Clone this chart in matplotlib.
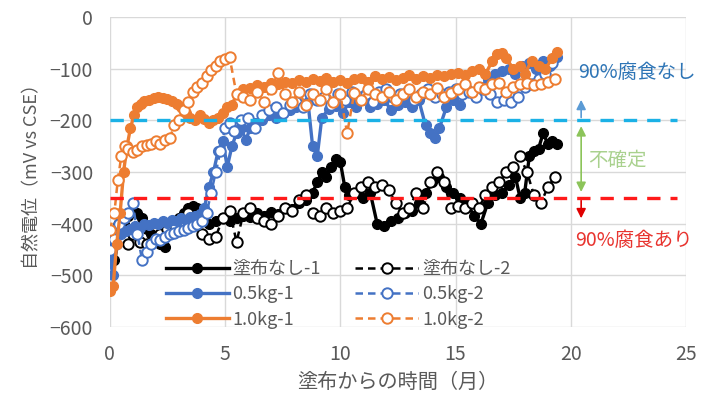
import numpy as np
import matplotlib
matplotlib.use("Agg")
from matplotlib import pyplot as plt

plt.rcParams['font.family'] = ['Noto Sans CJK JP', 'DejaVu Sans']

# 塗布なし-1
k1_t = [0.0, 0.2, 0.4, 0.6, 0.8, 1.0, 1.2, 1.4, 1.6, 1.8,
        2.0, 2.2, 2.4, 2.6, 2.8, 3.0, 3.2, 3.4, 3.6, 3.8,
        4.0, 4.3, 4.6, 4.9, 5.2, 5.5, 5.8, 6.1, 6.4, 6.7,
        7.0, 7.3, 7.6, 7.9, 8.2, 8.5, 8.8, 9.0, 9.2, 9.4,
        9.6, 9.8, 10.0, 10.2, 10.4, 10.7, 11.0, 11.3, 11.6, 11.9,
        12.2, 12.5, 12.8, 13.1, 13.4, 13.7, 14.0, 14.3, 14.6, 14.9,
        15.2, 15.5, 15.8, 16.1, 16.4, 16.7, 17.0, 17.3, 17.6, 17.8,
        18.0, 18.2, 18.4, 18.6, 18.8, 19.0, 19.2, 19.4]
k1_v = [-460, -470, -430, -400, -385, -375, -380, -390, -410, -420,
        -430, -440, -445, -420, -400, -390, -380, -370, -365, -370,
        -380, -400, -395, -390, -395, -390, -385, -388, -380, -385,
        -378, -382, -370, -372, -360, -355, -340, -320, -300, -310,
        -290, -275, -280, -330, -345, -340, -350, -340, -400, -405,
        -395, -390, -380, -375, -360, -340, -320, -310, -330, -340,
        -350, -360, -385, -400, -360, -345, -340, -325, -310, -350,
        -340, -270, -260, -255, -225, -245, -240, -245]

# 塗布なし-2
k2_t = [0.0, 0.2, 0.4, 0.6, 0.8, 1.0, 1.3, 1.6, 1.9, 2.2,
        2.5, 2.8, 3.1, 3.4, 3.7, 4.0, 4.3, 4.6, 4.9, 5.2,
        5.5, 5.8, 6.1, 6.4, 6.7, 7.0, 7.3, 7.6, 7.9, 8.2,
        8.5, 8.8, 9.1, 9.4, 9.7, 10.0, 10.3, 10.6, 10.9, 11.2,
        11.5, 11.8, 12.1, 12.4, 12.7, 13.0, 13.3, 13.6, 13.9, 14.2,
        14.5, 14.8, 15.1, 15.4, 15.7, 16.0, 16.3, 16.6, 16.9, 17.2,
        17.5, 17.8, 18.1, 18.4, 18.7, 19.0, 19.3]
k2_v = [-450, -420, -400, -430, -440, -420, -435, -440, -430, -420,
        -410, -400, -395, -380, -400, -420, -430, -425, -390, -375,
        -435, -380, -370, -390, -395, -400, -385, -370, -375, -355,
        -345, -380, -385, -370, -380, -375, -370, -340, -330, -320,
        -330, -325, -335, -360, -380, -370, -340, -370, -320, -300,
        -320, -370, -365, -370, -360, -370, -345, -330, -320, -300,
        -290, -270, -300, -345, -360, -330, -310]

# 0.5kg-1
b1_t = [0.0, 0.15, 0.3, 0.5, 0.7, 0.9, 1.1, 1.3, 1.5, 1.7,
        1.9, 2.1, 2.3, 2.5, 2.7, 2.9, 3.1, 3.3, 3.5, 3.7,
        3.9, 4.1, 4.3, 4.5, 4.7, 4.9, 5.1, 5.3, 5.5, 5.7,
        5.9, 6.1, 6.3, 6.6, 6.9, 7.2, 7.5, 7.8, 8.1, 8.4,
        8.6, 8.8, 9.0, 9.2, 9.5, 9.8, 10.1, 10.4, 10.7, 11.0,
        11.3, 11.6, 11.9, 12.2, 12.5, 12.8, 13.1, 13.4, 13.7, 13.9,
        14.1, 14.3, 14.6, 14.9, 15.2, 15.5, 15.8, 16.1, 16.4, 16.7,
        17.0, 17.3, 17.6, 17.9, 18.2, 18.5, 18.8, 19.1, 19.4]
b1_v = [-470, -500, -440, -420, -415, -410, -405, -408, -400, -402,
        -398, -400, -395, -398, -393, -395, -390, -392, -388, -385,
        -382, -370, -330, -300, -260, -240, -290, -250, -225, -215,
        -238, -215, -205, -200, -190, -195, -185, -180, -175, -168,
        -165, -250, -270, -195, -178, -172, -185, -165, -175, -160,
        -175, -168, -160, -180, -170, -165, -175, -160, -210, -225,
        -235, -215, -175, -160, -170, -140, -150, -135, -120, -110,
        -105, -100, -110, -95, -90, -100, -85, -95, -78]

# 0.5kg-2
b2_t = [0.0, 0.2, 0.4, 0.6, 0.8, 1.0, 1.2, 1.4, 1.6, 1.8,
        2.0, 2.2, 2.4, 2.6, 2.8, 3.0, 3.2, 3.4, 3.6, 3.8,
        4.0, 4.2, 4.4, 4.6, 4.8, 5.0, 5.2, 5.4, 5.7, 6.0,
        6.3, 6.6, 6.9, 7.2, 7.5, 7.8, 8.1, 8.4, 8.7, 9.0,
        9.3, 9.6, 9.9, 10.2, 10.5, 10.8, 11.1, 11.4, 11.7, 12.0,
        12.3, 12.6, 12.9, 13.2, 13.5, 13.8, 14.1, 14.4, 14.7, 15.0,
        15.3, 15.6, 15.9, 16.2, 16.5, 16.8, 17.1, 17.4, 17.7, 18.0,
        18.3, 18.6, 18.9, 19.2]
b2_v = [-450, -430, -400, -390, -380, -360, -420, -470, -455, -440,
        -430, -432, -425, -420, -418, -415, -412, -408, -405, -400,
        -395, -380, -340, -300, -260, -215, -205, -220, -200, -195,
        -215, -190, -180, -175, -185, -170, -165, -175, -150, -160,
        -155, -170, -150, -160, -145, -155, -150, -165, -145, -140,
        -155, -150, -145, -160, -150, -140, -155, -150, -145, -140,
        -150, -145, -155, -140, -150, -165, -160, -165, -155, -135,
        -130, -120, -110, -90]

# 1.0kg-1
o1_t = [0.0, 0.15, 0.3, 0.45, 0.6, 0.75, 0.9, 1.05, 1.2, 1.35,
        1.5, 1.7, 1.9, 2.1, 2.3, 2.5, 2.7, 2.9, 3.1, 3.3,
        3.5, 3.7, 3.9, 4.1, 4.3, 4.5, 4.7, 4.9, 5.1, 5.3,
        5.5, 5.8, 6.1, 6.4, 6.7, 7.0, 7.3, 7.6, 7.9, 8.2,
        8.5, 8.8, 9.1, 9.4, 9.7, 10.0, 10.3, 10.6, 10.9, 11.2,
        11.5, 11.8, 12.1, 12.4, 12.7, 13.0, 13.3, 13.6, 13.9, 14.2,
        14.5, 14.8, 15.1, 15.4, 15.7, 16.0, 16.3, 16.6, 16.8, 17.0,
        17.2, 17.5, 17.8, 18.0, 18.3, 18.6, 18.9, 19.2, 19.4]
o1_v = [-530, -520, -440, -380, -300, -250, -215, -190, -175, -168,
        -163, -160, -157, -155, -156, -158, -162, -168, -175, -185,
        -195, -200, -190, -198, -205, -200, -195, -185, -175, -170,
        -150, -140, -138, -132, -135, -128, -130, -125, -128, -122,
        -126, -120, -124, -118, -125, -122, -128, -120, -118, -125,
        -115, -120, -116, -122, -118, -113, -120, -115, -118, -112,
        -115, -110, -108, -112, -105, -100, -110, -85, -72, -70,
        -80, -100, -95, -110, -85, -95, -100, -80, -68]

# 1.0kg-2
o2_t = [0.0, 0.2, 0.35, 0.5, 0.65, 0.8, 1.0, 1.2, 1.4, 1.6,
        1.8, 2.0, 2.2, 2.4, 2.6, 2.8, 3.0, 3.2, 3.4, 3.6,
        3.8, 4.0, 4.2, 4.4, 4.6, 4.8, 5.0, 5.2, 5.5, 5.8,
        6.1, 6.4, 6.7, 7.0, 7.3, 7.6, 7.9, 8.2, 8.5, 8.8,
        9.1, 9.4, 9.7, 10.0, 10.3, 10.6, 10.9, 11.2, 11.5, 11.8,
        12.1, 12.4, 12.7, 13.0, 13.3, 13.6, 13.9, 14.2, 14.5, 14.8,
        15.1, 15.4, 15.7, 16.0, 16.3, 16.6, 16.9, 17.2, 17.5, 17.8,
        18.1, 18.4, 18.7, 19.0, 19.3]
o2_v = [-412, -380, -315, -270, -250, -255, -262, -258, -250, -248,
        -245, -240, -245, -238, -235, -210, -200, -180, -165, -145,
        -135, -128, -115, -103, -95, -85, -82, -78, -150, -155,
        -160, -145, -165, -140, -108, -150, -165, -145, -170, -150,
        -160, -140, -165, -150, -225, -148, -160, -140, -150, -155,
        -145, -160, -150, -140, -155, -145, -150, -138, -155, -148,
        -140, -130, -145, -135, -140, -130, -128, -145, -135, -130,
        -128, -132, -130, -125, -120]

series = [
    ("塗布なし-1", k1_t, k1_v, "#000000", True),
    ("塗布なし-2", k2_t, k2_v, "#000000", False),
    ("0.5kg-1", b1_t, b1_v, "#4472C4", True),
    ("0.5kg-2", b2_t, b2_v, "#4472C4", False),
    ("1.0kg-1", o1_t, o1_v, "#ED7D31", True),
    ("1.0kg-2", o2_t, o2_v, "#ED7D31", False),
]

no_corr = -200   # 90%腐食なし threshold
corr = -350      # 90%腐食あり threshold
arrow_x = 20.45

fig = plt.figure(figsize=(7.08, 3.94), dpi=100)
ax = fig.add_axes([0.155, 0.170, 0.814, 0.787])

handles = {}
for name, t, v, col, filled in series:
    if filled:
        h, = ax.plot(t, v, '-', color=col, lw=2.4, marker='o', ms=7,
                     mfc=col, mec=col, label=name, zorder=3)
    else:
        h, = ax.plot(t, v, '--', color=col, lw=1.8, marker='o', ms=7.5,
                     mfc='white', mec=col, mew=1.4, label=name, zorder=3,
                     dashes=(3, 2))
    handles[name] = h

ax.hlines(no_corr, 0, 24.6, colors='#1BB1E6', linestyles=(0, (4, 3)), lw=2.4, zorder=4)
ax.hlines(corr, 0, 24.6, colors='#FF1A1A', linestyles=(0, (4, 3)), lw=2.4, zorder=4)

# arrows on the right
ax.annotate('', xy=(arrow_x, -155), xytext=(arrow_x, no_corr),
            arrowprops=dict(arrowstyle='-|>', color='#5B9BD5', lw=1.2, mutation_scale=14))
ax.annotate('', xy=(arrow_x, corr + 6), xytext=(arrow_x, no_corr - 6),
            arrowprops=dict(arrowstyle='<|-|>', color='#8CC45A', lw=1.2, mutation_scale=14))
ax.annotate('', xy=(arrow_x, -395), xytext=(arrow_x, corr),
            arrowprops=dict(arrowstyle='-|>', color='#E00000', lw=1.2, mutation_scale=14))

ax.text(20.3, -108, "90%腐食なし", color='#2E75B6', fontsize=14, va='center', ha='left')
ax.text(20.75, -277, "不確定", color='#A9D18E', fontsize=14, va='center', ha='left')
ax.text(20.2, -432, "90%腐食あり", color='#E8342F', fontsize=14, va='center', ha='left')

ax.set_xlim(0, 25)
ax.set_ylim(-600, 0)
ax.set_xticks(np.arange(0, 26, 5))
ax.set_yticks(np.arange(-600, 1, 100))
ax.grid(True, color='#D9D9D9', lw=1)
ax.set_axisbelow(True)
for s in ax.spines.values():
    s.set_visible(False)
ax.tick_params(length=0, labelsize=14, labelcolor='#595959')
ax.tick_params(axis='x', pad=12)
ax.tick_params(axis='y', pad=12)

ax.set_xlabel("塗布からの時間（月）", fontsize=14.5, color='#595959', labelpad=5)
ax.set_ylabel("自然電位（mV vs CSE）", fontsize=13, color='#595959', labelpad=6)

order = ["塗布なし-1", "0.5kg-1", "1.0kg-1", "塗布なし-2", "0.5kg-2", "1.0kg-2"]
leg = ax.legend([handles[n] for n in order], order, ncol=2, frameon=False,
                loc='lower left', bbox_to_anchor=(0.097, -0.005), borderaxespad=0,
                borderpad=0, fontsize=13, handlelength=3.5, handletextpad=0.2,
                columnspacing=1.9, labelspacing=0.4)
for txt in leg.get_texts():
    txt.set_color('#595959')

fig.savefig("out.png", dpi=100)
